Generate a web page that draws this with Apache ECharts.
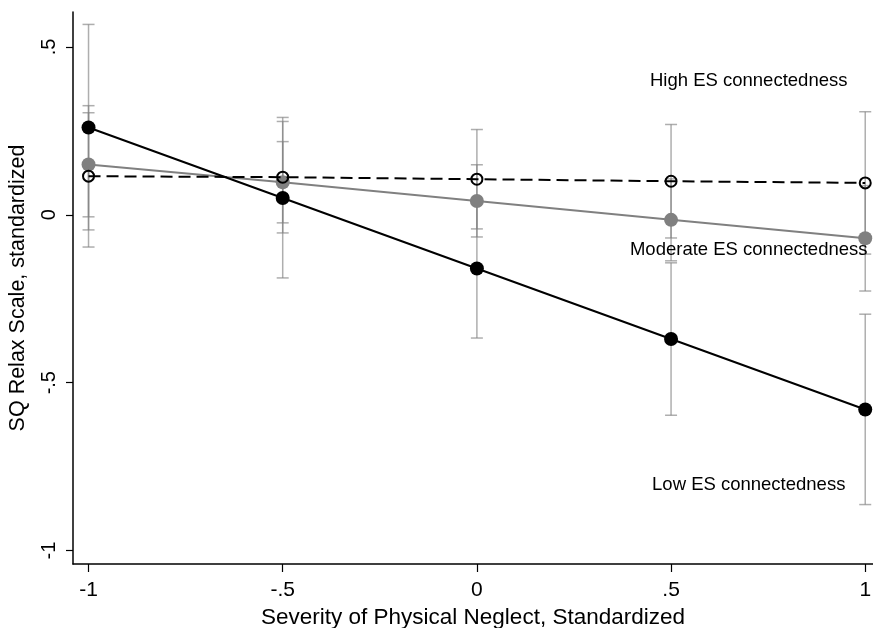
<!DOCTYPE html>
<html>
<head>
<meta charset="utf-8">
<script src="https://cdn.jsdelivr.net/npm/echarts@6/dist/echarts.min.js"></script>
<style>
	* { margin: 0; padding: 0; }
	#chart { width: 873px; height: 628px; background: #fff; }
</style>
</head>
<body>
<div id="chart"></div>
<script>
	// x positions (severity of physical neglect, standardized)
	var xs = [-1, -0.5, 0, 0.5, 1];
	var tickValues = [-1, -0.5, 0, 0.5, 1];
	var yTickValues = [-1, -0.5, 0, 0.5];

	// predicted means and 95% CI per ES connectedness level
	var lowMean = [0.26, 0.05, -0.16, -0.37, -0.58];
	var lowLo = [-0.045, -0.188, -0.367, -0.597, -0.863];
	var lowHi = [0.567, 0.290, 0.047, -0.143, -0.296];

	var modMean = [0.15, 0.097, 0.041, -0.015, -0.07];
	var modLo = [-0.006, -0.024, -0.066, -0.137, -0.227];
	var modHi = [0.304, 0.218, 0.149, 0.107, 0.087];

	var highMean = [0.115, 0.112, 0.106, 0.10, 0.095];
	var highLo = [-0.096, -0.054, -0.042, -0.069, -0.117];
	var highHi = [0.325, 0.278, 0.254, 0.269, 0.307];

	// annotation text
	var noteText = ['High ES connectedness', 'Moderate ES connectedness', 'Low ES connectedness'];
	var noteX = [0.70, 0.70, 0.70];
	var noteY = [0.40, -0.104, -0.804];

	function pairs(a) {
		return xs.map(function(x, i) { return [x, a[i]]; });
	}
	function ciRows(lo, hi) {
		return xs.map(function(x, i) { return [x, lo[i], hi[i]]; });
	}
	function fmt(v) {
		if (v === 0) return '0';
		return String(v).replace('0.', '.');
	}

	function renderCI(params, api) {
		var x = api.value(0);
		var lo = api.coord([x, api.value(1)]);
		var hi = api.coord([x, api.value(2)]);
		var w = 6;
		var st = { stroke: 'rgba(130,130,130,0.65)', lineWidth: 1.5 };
		return {
			type: 'group',
			children: [
				{ type: 'line', shape: { x1: lo[0], y1: lo[1], x2: hi[0], y2: hi[1] }, style: st },
				{ type: 'line', shape: { x1: lo[0] - w, y1: lo[1], x2: lo[0] + w, y2: lo[1] }, style: st },
				{ type: 'line', shape: { x1: hi[0] - w, y1: hi[1], x2: hi[0] + w, y2: hi[1] }, style: st }
			]
		};
	}

	var font = 'Liberation Sans, Arial, sans-serif';

	function renderNote(params, api) {
		var p = api.coord([api.value(0), api.value(1)]);
		return {
			type: 'text',
			x: p[0], y: p[1],
			style: {
				text: noteText[params.dataIndex],
				fill: '#000',
				font: '18.5px ' + font,
				align: 'center',
				verticalAlign: 'middle'
			}
		};
	}

	var chart = echarts.init(document.getElementById('chart'));
	chart.setOption({
		animation: false,
		textStyle: { fontFamily: font },
		grid: { left: 73, right: 0, top: 12, bottom: 64, outerBoundsMode: 'none', containLabel: false },
		xAxis: {
			type: 'value',
			min: -1.04,
			max: 1.02,
			name: 'Severity of Physical Neglect, Standardized',
			nameLocation: 'middle',
			nameGap: 37,
			nameTextStyle: { fontSize: 22.5, color: '#000', fontFamily: font },
			axisLine: { onZero: false, lineStyle: { color: '#000', width: 1.5 } },
			axisTick: { customValues: tickValues, length: 8, lineStyle: { color: '#000', width: 1.2 } },
			axisLabel: { customValues: tickValues, formatter: fmt, fontSize: 21, color: '#000', margin: 16 },
			splitLine: { show: false }
		},
		yAxis: {
			type: 'value',
			min: -1.04,
			max: 0.604,
			name: 'SQ Relax Scale, standardized',
			nameLocation: 'middle',
			nameGap: 44,
			nameTextStyle: { fontSize: 21.5, color: '#000', fontFamily: font },
			axisLine: { show: true, onZero: false, lineStyle: { color: '#000', width: 1.5 } },
			axisTick: { show: true, customValues: yTickValues, length: 7, lineStyle: { color: '#000', width: 1.2 } },
			axisLabel: { customValues: yTickValues, formatter: fmt, rotate: 90, fontSize: 20, color: '#000', margin: 14 },
			splitLine: { show: false }
		},
		series: [
			{ type: 'custom', renderItem: renderCI, data: ciRows(highLo, highHi), encode: { x: 0, y: [1, 2] }, z: 1, silent: true },
			{ type: 'custom', renderItem: renderCI, data: ciRows(modLo, modHi), encode: { x: 0, y: [1, 2] }, z: 1, silent: true },
			{ type: 'custom', renderItem: renderCI, data: ciRows(lowLo, lowHi), encode: { x: 0, y: [1, 2] }, z: 1, silent: true },
			{
				name: 'Moderate', type: 'line', data: pairs(modMean), z: 3,
				symbol: 'circle', symbolSize: 14,
				lineStyle: { color: '#808080', width: 2 },
				itemStyle: { color: '#808080', borderWidth: 0 }
			},
			{
				name: 'High', type: 'line', data: pairs(highMean), z: 4,
				symbol: 'circle', symbolSize: 11,
				lineStyle: { color: '#000', width: 2, type: [12, 6] },
				itemStyle: { color: 'rgba(0,0,0,0)', borderColor: '#000', borderWidth: 2 }
			},
			{
				name: 'Low', type: 'line', data: pairs(lowMean), z: 5,
				symbol: 'circle', symbolSize: 14,
				lineStyle: { color: '#000', width: 2 },
				itemStyle: { color: '#000', borderWidth: 0 }
			},
			{
				type: 'custom', renderItem: renderNote, z: 6, silent: true,
				data: noteX.map(function(x, i) { return [x, noteY[i]]; }),
				encode: { x: 0, y: 1 }
			}
		]
	});
</script>
</body>
</html>
